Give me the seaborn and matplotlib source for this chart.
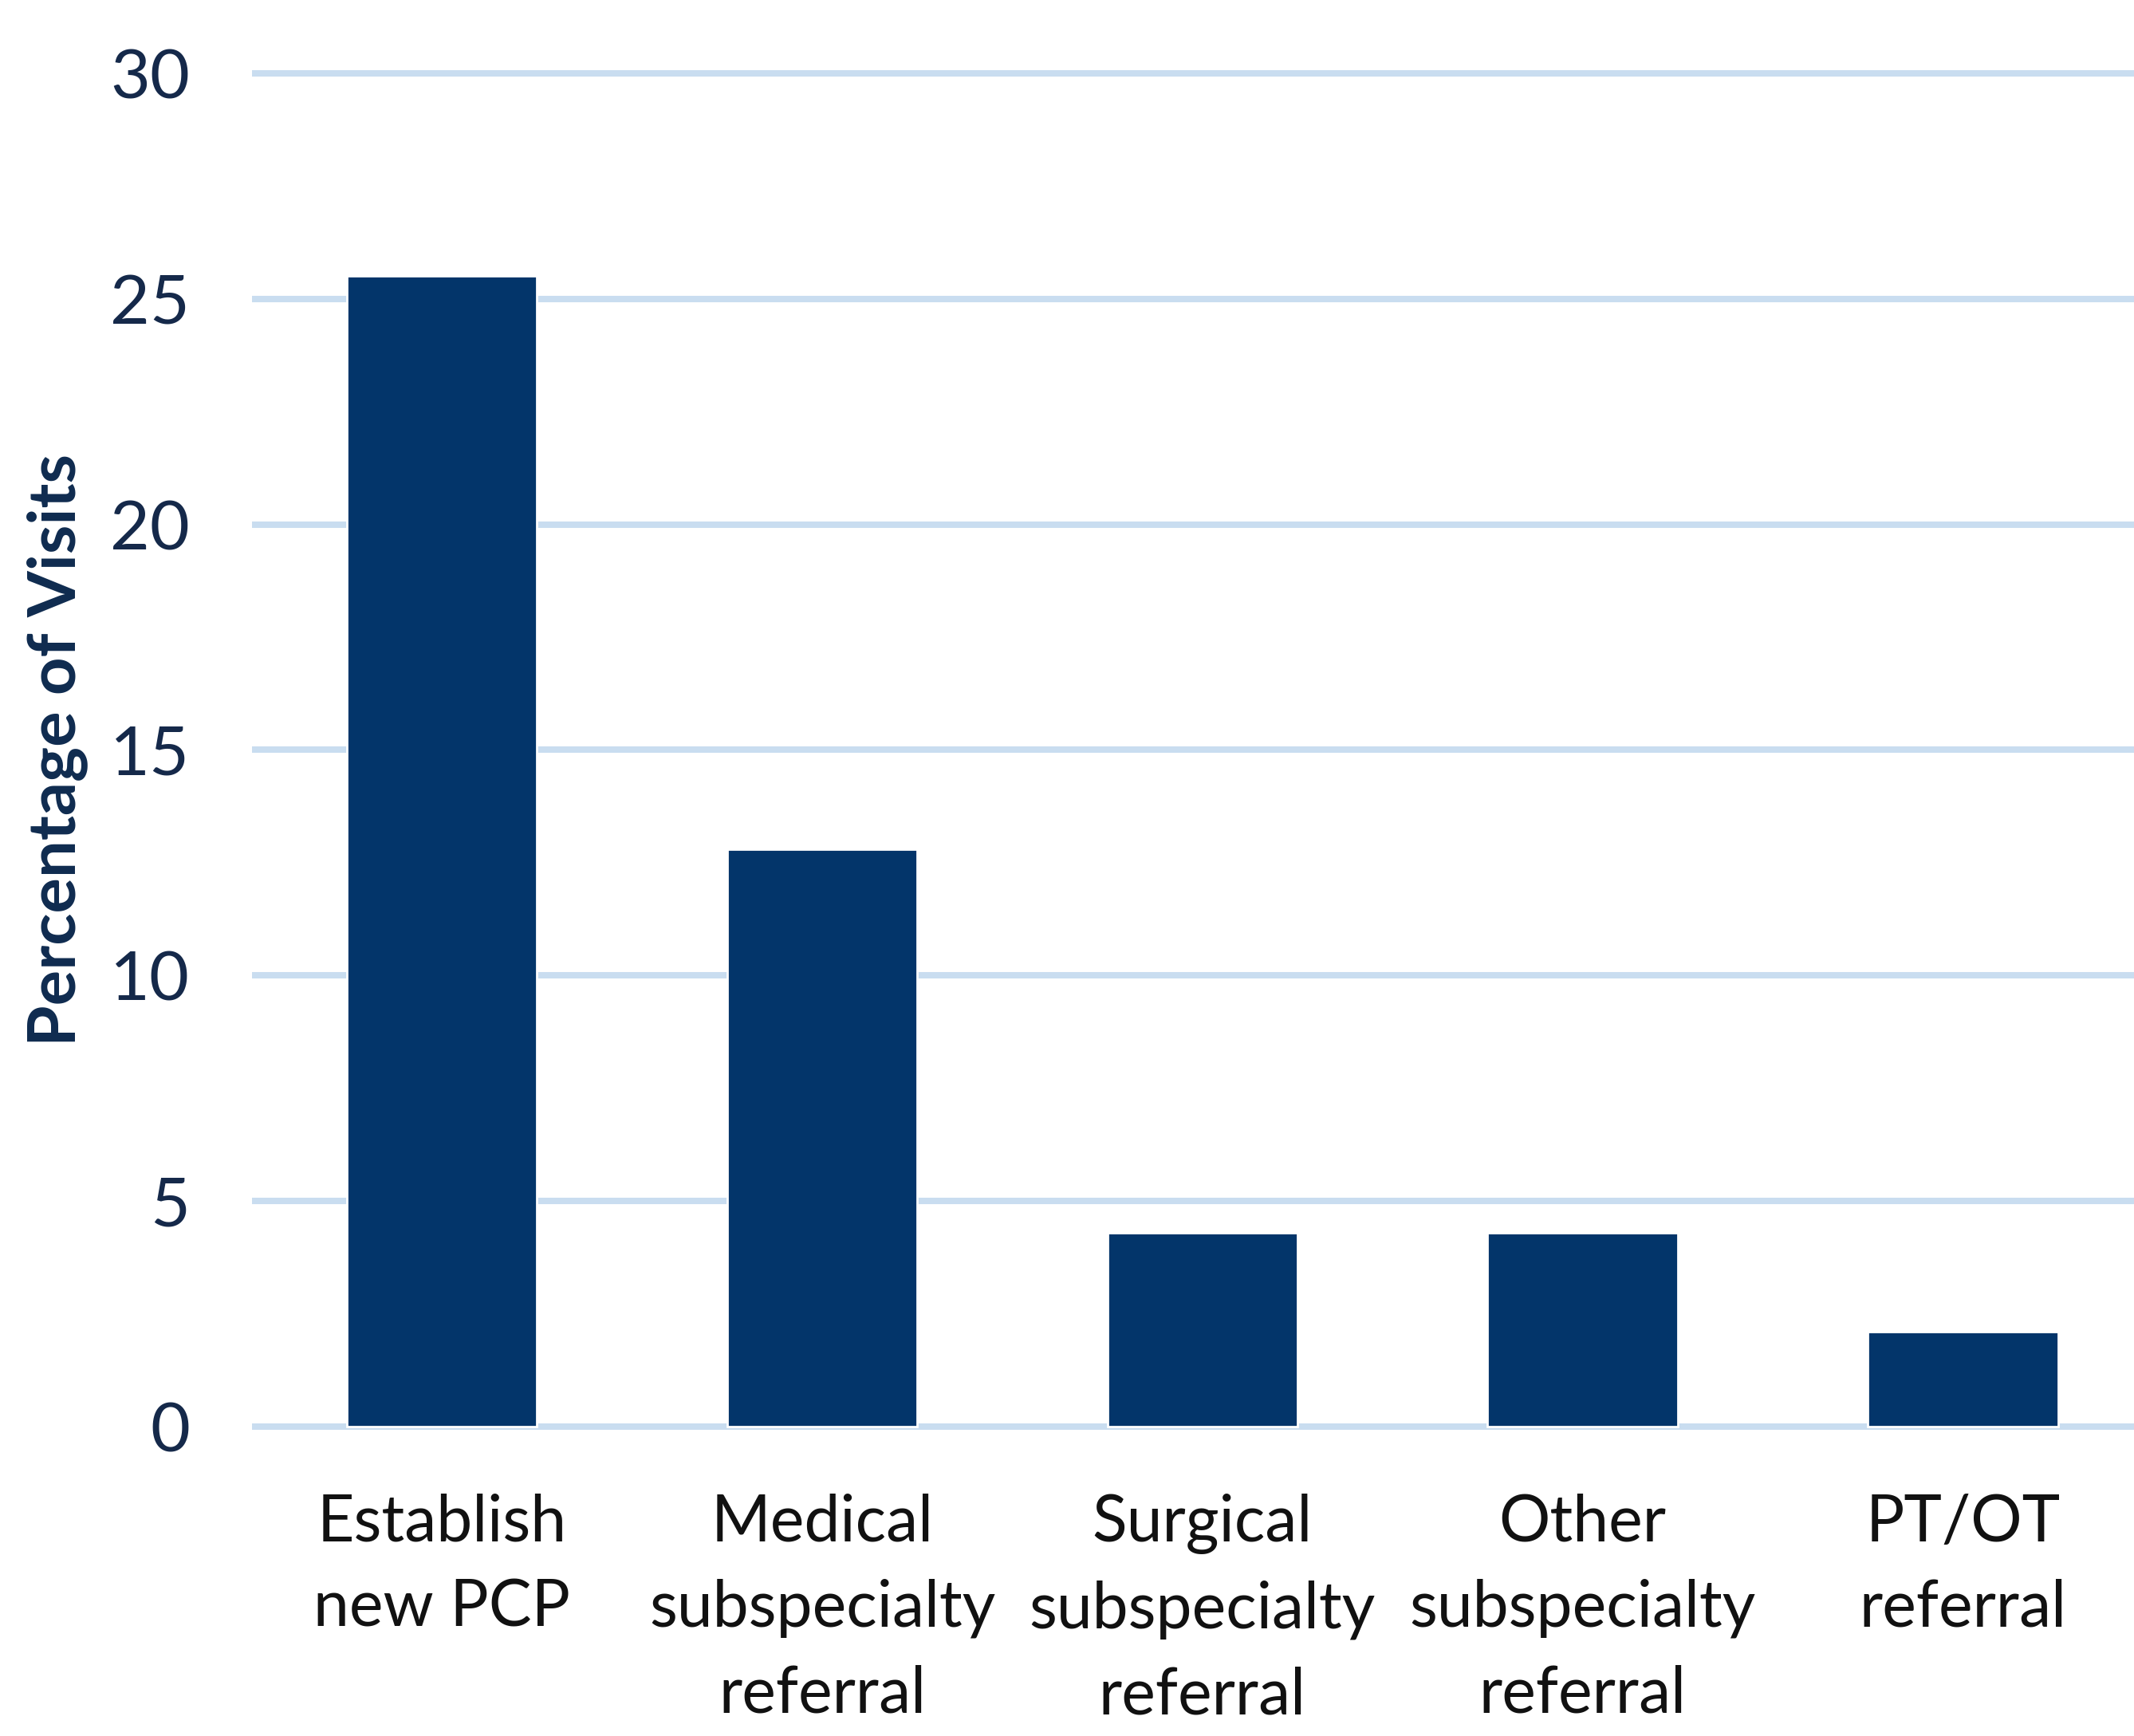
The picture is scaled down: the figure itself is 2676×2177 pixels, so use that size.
import matplotlib
matplotlib.use("Agg")
import matplotlib.pyplot as plt
import seaborn as sns
import pandas as pd

categories = ["Establish\nnew PCP", "Medical\nsubspecialty\nreferral",
              "Surgical\nsubspecialty\nreferral", "Other\nsubspecialty\nreferral",
              "PT/OT\nreferral"]
values = [25.5, 12.8, 4.3, 4.3, 2.1]
yticks = [0, 5, 10, 15, 20, 25, 30]

sns.set_theme(style="white")
plt.rcParams["font.family"] = ["Lato", "DejaVu Sans"]

df = pd.DataFrame({"cat": categories, "val": values})

fig = plt.figure(figsize=(13.38, 10.885), dpi=200)
ax = fig.add_axes([0.118, 0.173, 0.882, 0.79])
sns.barplot(data=df, x="cat", y="val", color="#03356A", saturation=1,
            width=0.5, ax=ax, zorder=3)
ax.set_ylim(-0.2, 30.2)
ax.set_xlim(-0.5, 4.45)
ax.set_yticks(yticks)
ax.yaxis.grid(True, color="#C9DDF0", linewidth=2.9, zorder=0)
ax.set_axisbelow(True)
for s in ax.spines.values():
    s.set_visible(False)
ax.tick_params(axis="y", length=0, pad=28, labelsize=31, labelcolor="#15294A")
ax.tick_params(axis="x", length=0, pad=26, labelsize=29, labelcolor="#111111")
for lbl in ax.get_xticklabels():
    lbl.set_linespacing(1.55)
ax.set_xlabel("")
ax.set_ylabel("Percentage of Visits", fontsize=30, fontweight="bold",
              color="#0F2B4F", labelpad=10)
fig.savefig("out.png", dpi=200)
